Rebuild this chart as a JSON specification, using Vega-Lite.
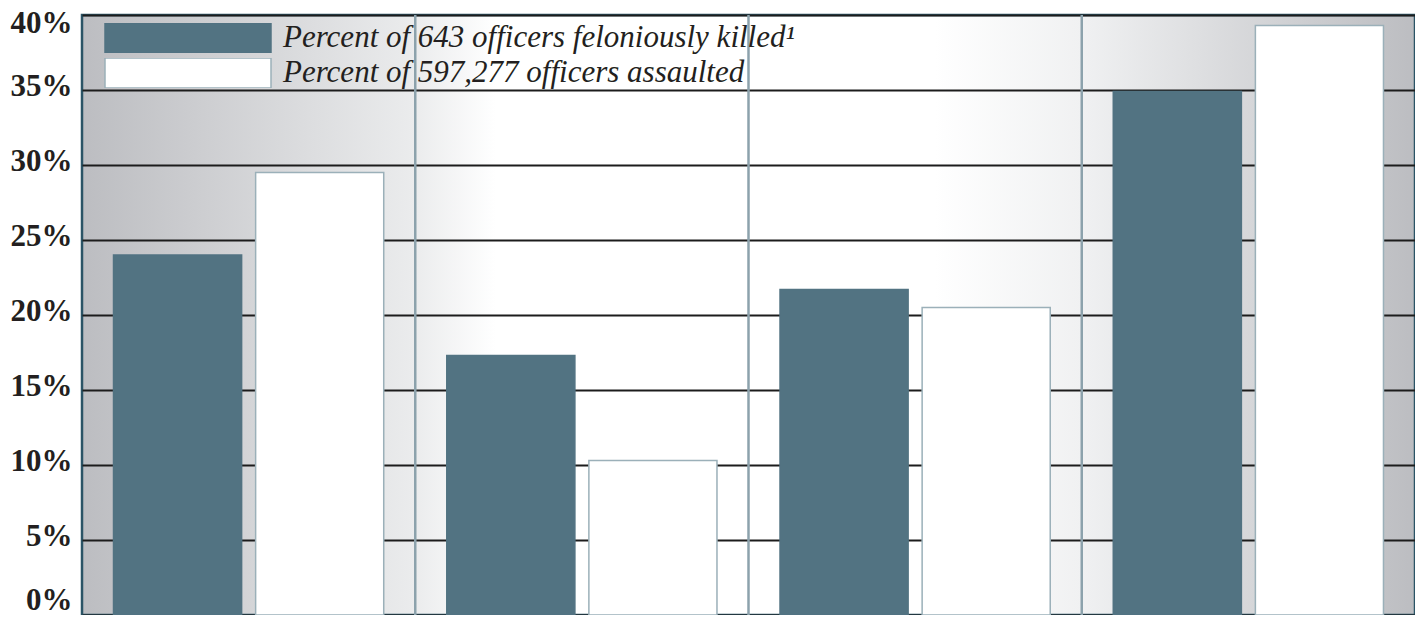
{
  "$schema": "https://vega.github.io/schema/vega-lite/v6.json",
  "width": 1333,
  "height": 600,
  "autosize": {"type": "none"},
  "padding": {"left": 82, "top": 15, "right": 0, "bottom": 0},
  "background": "#ffffff",
  "config": {
    "view": {
      "stroke": "#2b5466",
      "strokeWidth": 2.5,
      "fill": {
        "gradient": "linear",
        "x1": 0, "y1": 0, "x2": 1, "y2": 0,
        "stops": [
          {"offset": 0, "color": "#bcbdc1"},
          {"offset": 0.25, "color": "#ebeced"},
          {"offset": 0.31, "color": "#ffffff"},
          {"offset": 0.64, "color": "#ffffff"},
          {"offset": 0.75, "color": "#f0f1f2"},
          {"offset": 1, "color": "#bcbdc1"}
        ]
      }
    }
  },
  "datasets": {
    "bars": [
      {"period": "12:01 a.m.–6 a.m.", "series": "Percent of 643 officers feloniously killed¹", "percent": 24.0},
      {"period": "12:01 a.m.–6 a.m.", "series": "Percent of 597,277 officers assaulted", "percent": 29.5},
      {"period": "6:01 a.m.–noon", "series": "Percent of 643 officers feloniously killed¹", "percent": 17.3},
      {"period": "6:01 a.m.–noon", "series": "Percent of 597,277 officers assaulted", "percent": 10.3},
      {"period": "12:01 p.m.–6 p.m.", "series": "Percent of 643 officers feloniously killed¹", "percent": 21.7},
      {"period": "12:01 p.m.–6 p.m.", "series": "Percent of 597,277 officers assaulted", "percent": 20.5},
      {"period": "6:01 p.m.–midnight", "series": "Percent of 643 officers feloniously killed¹", "percent": 34.9},
      {"period": "6:01 p.m.–midnight", "series": "Percent of 597,277 officers assaulted", "percent": 39.3}
    ],
    "dividers": [
      {"period": "6:01 a.m.–noon"},
      {"period": "12:01 p.m.–6 p.m."},
      {"period": "6:01 p.m.–midnight"}
    ]
  },
  "encoding": {
    "x": {
      "field": "period",
      "type": "nominal",
      "sort": null,
      "scale": {
        "domain": ["12:01 a.m.–6 a.m.", "6:01 a.m.–noon", "12:01 p.m.–6 p.m.", "6:01 p.m.–midnight"],
        "paddingInner": 0,
        "paddingOuter": 0
      },
      "axis": null
    }
  },
  "layer": [
    {
      "data": {"name": "dividers"},
      "mark": {"type": "rule", "color": "#8ca2ac", "strokeWidth": 2.5},
      "encoding": {
        "x": {"field": "period", "type": "nominal", "bandPosition": 0}
      }
    },
    {
      "data": {"name": "bars"},
      "mark": {"type": "bar", "strokeWidth": 1.5},
      "encoding": {
        "xOffset": {
          "field": "series",
          "type": "nominal",
          "sort": null,
          "scale": {
            "domain": ["Percent of 643 officers feloniously killed¹", "Percent of 597,277 officers assaulted"],
            "paddingInner": 0.0986,
            "paddingOuter": 0.2218
          }
        },
        "y": {
          "field": "percent",
          "type": "quantitative",
          "scale": {"domain": [0, 40], "nice": false, "zero": true},
          "axis": {
            "title": null,
            "values": [0, 5, 10, 15, 20, 25, 30, 35, 40],
            "labelExpr": "datum.value + '%'",
            "domain": false,
            "ticks": false,
            "grid": true,
            "gridColor": "#1c1c1c",
            "gridWidth": 2,
            "labelFont": "Liberation Serif",
            "labelFontWeight": "bold",
            "labelFontSize": 31,
            "labelColor": "#231f20",
            "labelPadding": 10,
            "labelBaseline": "alphabetic",
            "labelOffset": {"condition": [{"test": "datum.value == 40", "value": 17}, {"test": "datum.value == 0", "value": -6}], "value": 5},
            "labelFlush": false,
            "labelOverlap": false
          }
        },
        "fill": {
          "field": "series",
          "type": "nominal",
          "scale": {
            "domain": ["Percent of 643 officers feloniously killed¹", "Percent of 597,277 officers assaulted"],
            "range": ["#527382", "#ffffff"]
          },
          "legend": {
            "title": null,
            "orient": "none",
            "legendX": 22,
            "legendY": 8,
            "padding": 0,
            "symbolType": "M-1,-0.181H1V0.181H-1Z",
            "symbolSize": 27556,
            "symbolStrokeWidth": 1.5,
            "symbolOpacity": 1,
            "clipHeight": 30,
            "rowPadding": 4,
            "labelOffset": 11,
            "labelFont": "Liberation Serif",
            "labelFontStyle": "italic",
            "labelFontSize": 31,
            "labelColor": "#231f20",
            "labelLimit": 0,
            "labelBaseline": "middle"
          }
        },
        "stroke": {
          "field": "series",
          "type": "nominal",
          "scale": {
            "domain": ["Percent of 643 officers feloniously killed¹", "Percent of 597,277 officers assaulted"],
            "range": ["#527382", "#9bb0b9"]
          },
          "legend": null
        }
      }
    }
  ]
}
